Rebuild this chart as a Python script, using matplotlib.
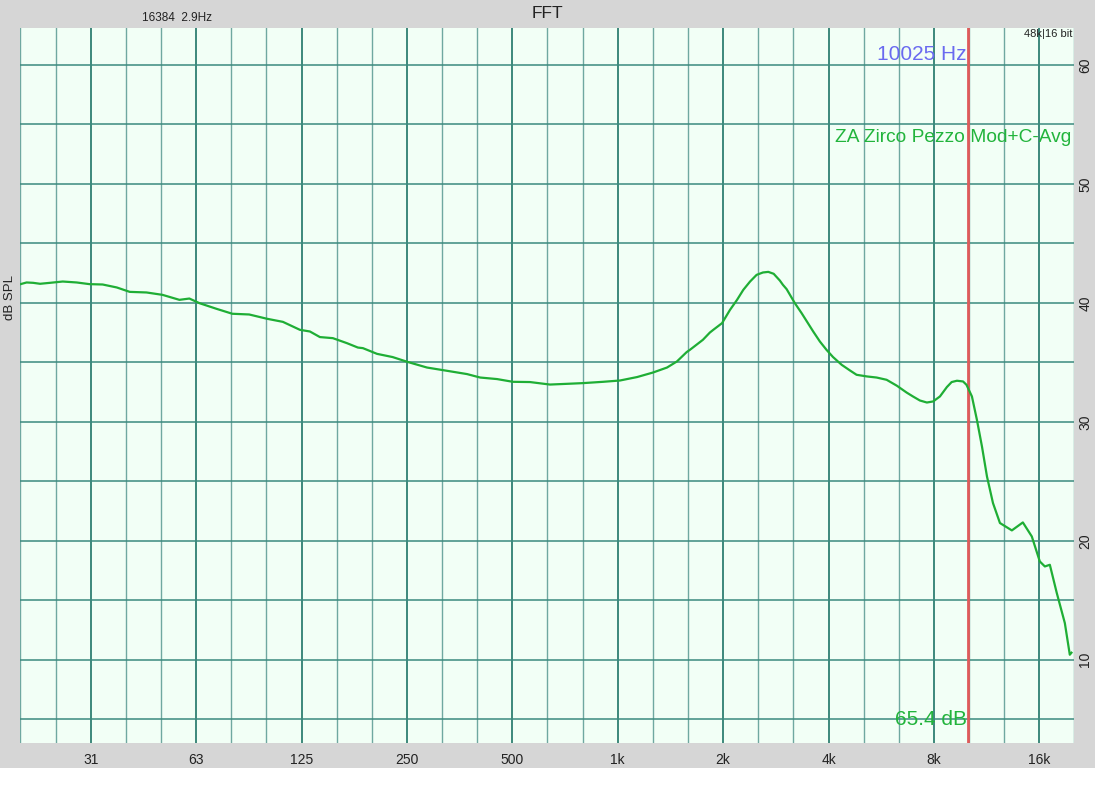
import matplotlib
matplotlib.use('Agg')
import matplotlib.pyplot as plt
from matplotlib.patches import Rectangle

plt.rcParams['font.family'] = ['Liberation Sans', 'DejaVu Sans']

# response: frequency (Hz) and level (dB SPL)
freqs = [19.7, 20.5, 21.4, 22.4, 23.9, 26.0, 28.5, 31.0, 33.8, 37.1, 40.4, 45.1,
         50.1, 56.0, 59.8, 63.9, 71.4, 79.3, 88.6, 99.6, 110.6, 123.7, 132.1,
         141.1, 153.6, 168.5, 181.1, 187.2, 205.4, 227.6, 251.9, 285.3, 324.8,
         371.2, 404.7, 452.3, 501.9, 561.6, 640.5, 715.4, 795.4, 907.8, 1015,
         1136, 1261, 1383, 1476, 1574, 1608, 1751, 1833, 1875, 1986, 2093, 2192,
         2284, 2388, 2493, 2599, 2692, 2789, 2905, 2964, 3037, 3206, 3352, 3470,
         3617, 3779, 3947, 4121, 4361, 4608, 4811, 5152, 5488, 5861, 6271, 6684,
         6969, 7295, 7638, 7961, 8324, 8713, 8990, 9309, 9690, 9910, 10272, 10614,
         10974, 11341, 11797, 12351, 13358, 14359, 15230, 16053, 16595, 17147,
         17947, 18925, 19553, 19768]
levels = [41.57, 41.71, 41.68, 41.60, 41.68, 41.79, 41.71, 41.57, 41.54, 41.29,
          40.92, 40.87, 40.67, 40.25, 40.36, 39.97, 39.50, 39.08, 39.02, 38.66,
          38.40, 37.73, 37.59, 37.12, 37.03, 36.61, 36.24, 36.19, 35.71, 35.44,
          35.02, 34.56, 34.29, 34.01, 33.72, 33.59, 33.36, 33.34, 33.13, 33.19,
          33.25, 33.36, 33.47, 33.76, 34.14, 34.56, 35.07, 35.86, 36.05, 36.89,
          37.50, 37.73, 38.29, 39.41, 40.25, 41.09, 41.79, 42.35, 42.55, 42.60,
          42.44, 41.87, 41.51, 41.15, 39.97, 39.13, 38.43, 37.59, 36.75, 36.05,
          35.44, 34.79, 34.31, 33.95, 33.81, 33.72, 33.53, 33.03, 32.46, 32.13,
          31.79, 31.62, 31.71, 32.13, 32.92, 33.34, 33.45, 33.39, 33.11, 32.13,
          30.17, 27.92, 25.40, 23.17, 21.49, 20.87, 21.54, 20.36, 18.26, 17.84,
          17.98, 15.61, 13.08, 10.42, 10.59]

octave_labels = ['31', '63', '125', '250', '500', '1k', '2k', '4k', '8k', '16k']
octave_freqs = [31.25, 62.5, 125, 250, 500, 1000, 2000, 4000, 8000, 16000]
db_ticks = [10, 20, 30, 40, 50, 60]
cursor_freq = 10025
cursor_label = '10025 Hz'
level_label = '65.4 dB'
trace_name = 'ZA Zirco Pezzo Mod+C-Avg'

fig = plt.figure(figsize=(10.95, 8), dpi=100)
fig.patch.set_facecolor('#d6d6d6')
fig.patches.append(Rectangle((0, 0), 1, 32 / 800, transform=fig.transFigure,
                             facecolor='white', edgecolor='none', zorder=0))

ax = fig.add_axes([20 / 1095, 57 / 800, 1054 / 1095, 715 / 800])
ax.set_facecolor('#f2fff6')
ax.set_xscale('log')
ax.set_xlim(19.63, 20100)
ax.set_ylim(3.0, 63.1)

# third-octave grid, octaves a bit darker
for k in range(-2, 30):
    f = 31.25 * 2 ** (k / 3)
    if k % 3 == 0:
        ax.axvline(f, color='#2f7f72', lw=1.3, zorder=1)
    else:
        ax.axvline(f, color='#6fa8a0', lw=1.0, zorder=1)
for d in range(5, 65, 5):
    ax.axhline(d, color='#3b8a7e', lw=1.1, zorder=1)

ax.axvline(cursor_freq, color='#e05a5a', lw=2.0, zorder=3)
ax.plot(freqs, levels, color='#1fae35', lw=1.6, zorder=4,
        solid_joinstyle='round')

for s in ax.spines.values():
    s.set_visible(False)

ax.set_xticks(octave_freqs)
ax.set_xticklabels(octave_labels)
ax.xaxis.set_minor_locator(matplotlib.ticker.NullLocator())
ax.tick_params(axis='x', length=0, pad=7, labelsize=10, labelcolor='#222222')
ax.yaxis.tick_right()
ax.set_yticks(db_ticks)
ax.set_yticklabels([str(v) for v in db_ticks], rotation=90, va='center')
ax.tick_params(axis='y', length=0, pad=3, labelsize=10, labelcolor='#222222')

fig.text(10 / 1095, 1 - 297 / 800, 'dB SPL', rotation=90, ha='center', va='center',
         fontsize=9.5, color='#222222')
fig.text(547 / 1095, 1 - 14 / 800, 'FFT', ha='center', va='center',
         fontsize=12.5, color='#222222')
fig.text(177 / 1095, 1 - 18 / 800, '16384  2.9Hz', ha='center', va='center',
         fontsize=8.5, color='#222222')
fig.text(1072 / 1095, 1 - 34 / 800, '48k|16 bit', ha='right', va='center',
         fontsize=8, color='#222222')

ax.text(cursor_freq * 0.992, 60.9, cursor_label, ha='right', va='center',
        fontsize=15, color='#6a6af0', zorder=5)
ax.text(19800, 53.9, trace_name, ha='right', va='center',
        fontsize=13.8, color='#22b43c', zorder=5)
ax.text(cursor_freq * 0.992, 5.0, level_label, ha='right', va='center',
        fontsize=15, color='#22b43c', zorder=5)

fig.savefig('out.png', dpi=100, facecolor=fig.get_facecolor())
